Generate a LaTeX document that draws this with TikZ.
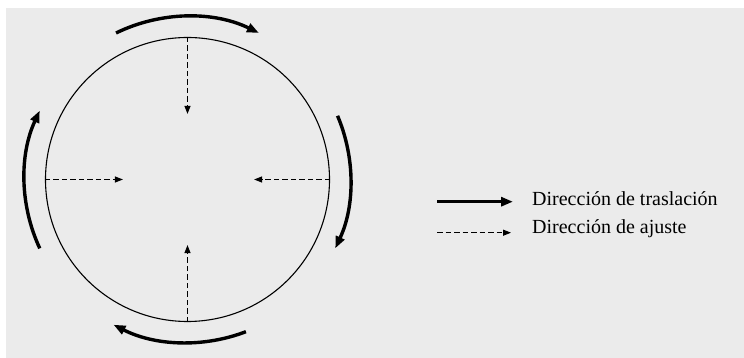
\documentclass[tikz,border=0pt]{standalone}
\usepackage{fontspec}
\setmainfont{Liberation Serif}
\usetikzlibrary{arrows.meta, positioning}
\definecolor{paper}{HTML}{EBEBEB}
\tikzset{
  transl/.style = {-{Triangle[length=12pt, width=9pt]}, line width=3.4pt},
  ajuste/.style = {-{Triangle[length=8pt, width=6pt]}, line width=1.1pt,
                   dash pattern=on 5.5pt off 3pt},
  lbl/.style    = {font=\fontsize{20}{22}\selectfont, anchor=base west, inner sep=0pt},
}
\begin{document}
\begin{tikzpicture}[x=1pt, y=1pt]
  \useasboundingbox (0,0) rectangle (744,358);
  \fill[paper] (6,0) rectangle (744,350);
  % wheel and its centre
  \coordinate (c) at (187.5,178.5);
  \node[circle, draw, line width=1.1pt, minimum size=284pt, inner sep=0pt] (wheel) at (c) {};
  % translation, clockwise round the wheel
  \foreach \a/\b in {116/64, 23/-25, -69/-117, 205/155}
    \draw[transl] ([shift={(\a:163)}]c) arc[start angle=\a, end angle=\b, radius=163];
  % adjustment, inwards from the rim
  \coordinate (n) at ([yshift=-77pt]wheel.north);
  \coordinate (s) at ([yshift=77pt]wheel.south);
  \coordinate (w) at ([xshift=78pt]wheel.west);
  \coordinate (e) at ([xshift=-76pt]wheel.east);
  \draw[ajuste] (wheel.north) -- (n);
  \draw[ajuste] (wheel.south) -- (s);
  \draw[ajuste] (wheel.west) -- (w);
  \draw[ajuste] (wheel.east) -- (e);
  % legend
  \coordinate (k1) at (437,156.3);
  \coordinate (k2) at (437,125.3);
  \node[lbl] (t1) at (532,152.3) {Dirección de traslación};
  \node[lbl] (t2) at (532,124.7) {Dirección de ajuste};
  \draw[transl, line width=3pt] (k1) -- ++(76,0);
  \draw[ajuste] (k2) -- ++(74,0);
\end{tikzpicture}
\end{document}
